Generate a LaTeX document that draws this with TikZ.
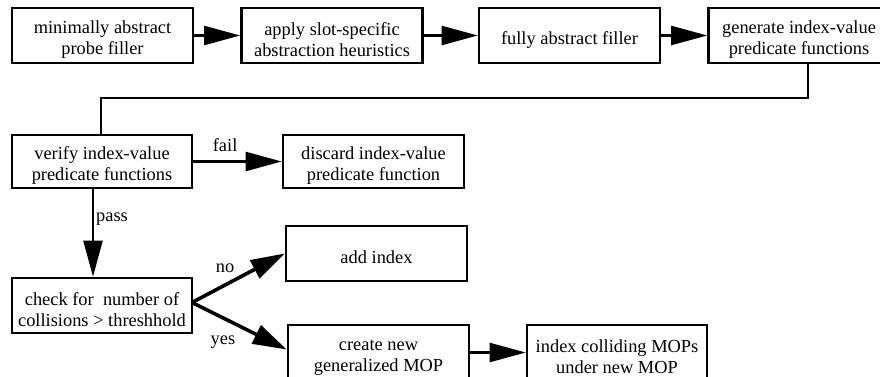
\documentclass[tikz,border=0pt]{standalone}
\usepackage{fontspec}
\setmainfont{Liberation Serif}
\newfontfamily\boxfont{Liberation Serif}
\usetikzlibrary{arrows.meta}
% taller first line, so that box texts sit a little below the centre
\newcommand{\boxstrut}{\rule{0pt}{21pt}}
\begin{document}
\begin{tikzpicture}[x=1pt,y=-1pt,
  txt/.style={font=\boxfont\fontsize{18.4}{21.7}\selectfont},
  stepbox/.style={txt, draw, line width=2.6pt, rectangle, inner sep=0pt,
    minimum width=181pt, minimum height=55pt, align=center},
  link/.style={line width=2.3pt},
  flow/.style={link, -{Triangle[length=36pt,width=19pt]}},
  branch/.style={line width=3.6pt, -{Triangle[length=34pt,width=20pt]}},
  lbl/.style={txt, inner sep=0pt}]
\useasboundingbox (0,0) rectangle (880,377);
\clip (0,0) rectangle (880,377);

% first row
\node[stepbox] (b1) at (102.5,35.5) {\boxstrut minimally abstract\\probe filler};
\node[stepbox] (b2) at (332,35.5) {\boxstrut apply slot-specific\\abstraction heuristics};
\node[stepbox] (b3) at (569.5,35.5) {\boxstrut fully abstract filler};
\node[stepbox] (b4) at (799,35.5) {\boxstrut generate index-value\\predicate functions};

% verification
\node[stepbox, minimum width=180pt, minimum height=53pt] (b5) at (102,161.5) {\boxstrut verify index-value\\predicate functions};
\node[stepbox, minimum height=53pt] (b6) at (373.5,161.5) {\boxstrut discard index-value\\predicate function};

% collision check and outcomes
\node[stepbox, minimum width=180pt] (b7) at (102,305.5) {\boxstrut check for~ number of\\collisions > threshhold};
\node[stepbox] (b8) at (376.5,253.5) {\boxstrut add index};
\node[stepbox] (b9) at (378.5,352.5) {\boxstrut create new\\generalized MOP};
\node[stepbox, minimum width=180pt] (b10) at (617,352.5) {\boxstrut index colliding MOPs\\under new MOP};

\draw[flow] (b1) -- (b2);
\draw[flow] (b2) -- (b3);
\draw[flow] (b3) -- (b4);

% return line from the generator to the verifier
\coordinate (t1) at (808,98);
\coordinate (t2) at (101,98);
\draw[link] (b4.south -| t1) -- (t1) -- (t2) -- (t2 |- b5.north);

\draw[flow] (b5.east) -- (b6.west) node[lbl, pos=0.36, above=9pt] (lfail) {fail};

\coordinate (p) at (93,0);
\draw[flow] (b5.south -| p) -- (b7.north -| p);
\node[lbl] (lpass) at (112,219) {pass};

\coordinate (fork) at (192,302.5);
\draw[branch] (fork) -- (b8.west);
\draw[branch] (fork) -- ([yshift=3pt]b9.west);
\node[lbl] (lno) at (225,268) {no};
\node[lbl] (lyes) at (223,342) {yes};

\draw[flow] (b9) -- (b10);
\end{tikzpicture}
\end{document}
